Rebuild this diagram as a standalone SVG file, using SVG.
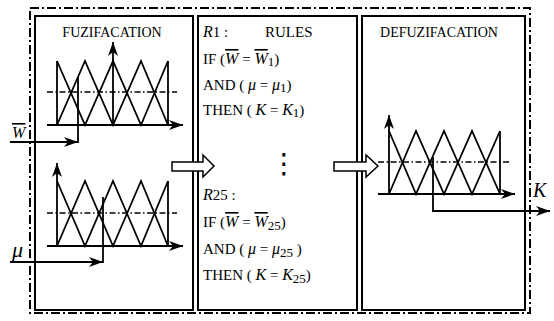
<svg xmlns="http://www.w3.org/2000/svg" width="554" height="321" viewBox="0 0 554 321">
<style>
.box{fill:none;stroke:#000;stroke-width:2}
.frame{fill:none;stroke:#000;stroke-width:2;stroke-dasharray:9 3 2 3}
.mf{fill:none;stroke:#000;stroke-width:1.8;stroke-linejoin:miter}
.ax{fill:none;stroke:#000;stroke-width:1.8;marker-end:url(#ah)}
.dd{fill:none;stroke:#000;stroke-width:1.3;stroke-dasharray:6 2.5 1.5 2.5}
.t{font-family:"Liberation Serif","Times New Roman",serif;font-size:14px;fill:#000}
.r{font-size:15px}
.i{font-style:italic;font-size:16px}
.ov{text-decoration:overline}
.sub{font-size:13px}
.ha{fill:#fff;stroke:#000;stroke-width:1.5}
.ln{fill:none;stroke:#000;stroke-width:1.8}
</style>
<defs>
<marker id="ah" viewBox="0 0 14 10" refX="14" refY="5" markerWidth="14" markerHeight="10" markerUnits="userSpaceOnUse" orient="auto"><path d="M0,0 L14,5 L0,10 L4,5 Z" fill="#000"/></marker>
</defs>
<rect class="frame" x="30" y="8" width="500" height="305"/>
<g id="fuzification">
<rect class="box" x="35" y="16" width="158" height="294"/>
<text class="t" x="112" y="37" text-anchor="middle">FUZIFACATION</text>
<line class="dd" x1="47" y1="92" x2="177" y2="92"/>
<polyline class="mf" points="57,61 85,125 113,61 141,125 168,61"/>
<polyline class="mf" points="57,125 85,61 113,125 141,61 168,125"/>
<line class="mf" x1="57" y1="61" x2="57" y2="125"/>
<line class="mf" x1="168" y1="61" x2="168" y2="125"/>
<line class="ax" x1="113" y1="125" x2="113" y2="42"/>
<line class="ax" x1="47" y1="125" x2="183" y2="125"/>
<line class="dd" x1="47" y1="213" x2="177" y2="213"/>
<polyline class="mf" points="57,181 85,246 113,181 141,246 168,181"/>
<polyline class="mf" points="57,246 85,181 113,246 141,181 168,246"/>
<line class="mf" x1="168" y1="181" x2="168" y2="246"/>
<line class="ax" x1="57" y1="246" x2="57" y2="163"/>
<line class="ax" x1="47" y1="246" x2="183" y2="246"/>
</g>
<g id="rules">
<rect class="box" x="198" y="16" width="159" height="294"/>
<text class="t r" x="203" y="37"><tspan class="i">R</tspan>1 :</text>
<text class="t r" x="265" y="37">RULES</text>
<text class="t r" x="203" y="64">IF (<tspan class="i ov">W</tspan> = <tspan class="i ov">W</tspan><tspan class="sub" dy="2">1</tspan><tspan dy="-2">)</tspan></text>
<text class="t r" x="203" y="90">AND ( <tspan class="i">μ</tspan> = <tspan class="i">μ</tspan><tspan class="sub" dy="2">1</tspan><tspan dy="-2">)</tspan></text>
<text class="t r" x="203" y="115">THEN ( <tspan class="i">K</tspan> = <tspan class="i">K</tspan><tspan class="sub" dy="2">1</tspan><tspan dy="-2">)</tspan></text>
<text class="t" x="284" y="173" text-anchor="middle" style="font-family:'DejaVu Sans',sans-serif;font-size:28px">⋮</text>
<text class="t r" x="203" y="200"><tspan class="i">R</tspan>25 :</text>
<text class="t r" x="203" y="227">IF (<tspan class="i ov">W</tspan> = <tspan class="i ov">W</tspan><tspan class="sub" dy="3">25</tspan><tspan dy="-3">)</tspan></text>
<text class="t r" x="203" y="254">AND ( <tspan class="i">μ</tspan> = <tspan class="i">μ</tspan><tspan class="sub" dy="3">25</tspan><tspan dy="-3"> )</tspan></text>
<text class="t r" x="203" y="280">THEN ( <tspan class="i">K</tspan> = <tspan class="i">K</tspan><tspan class="sub" dy="3">25</tspan><tspan dy="-3">)</tspan></text>
</g>
<g id="defuzification">
<rect class="box" x="362" y="16" width="163" height="294"/>
<text class="t" x="439" y="37" text-anchor="middle">DEFUZIFACATION</text>
<line class="dd" x1="378" y1="162" x2="509" y2="162"/>
<polyline class="mf" points="389,131 416,194 444,131 472,194 500,131"/>
<polyline class="mf" points="389,194 416,131 444,194 472,131 500,194"/>
<line class="mf" x1="500" y1="131" x2="500" y2="194"/>
<line class="ax" x1="389" y1="194" x2="389" y2="115"/>
<line class="ax" x1="378" y1="194" x2="515" y2="194"/>
</g>
<g id="connectors">
<polygon class="ha" points="172,162 203,162 203,155 214,166 203,177 203,171 172,171"/>
<polygon class="ha" points="334,162 366,162 366,155 378,166 366,177 366,171 334,171"/>
<line class="ln" x1="78" y1="77" x2="78" y2="143"/>
<line class="ax" x1="10" y1="142" x2="78" y2="142"/>
<line class="ln" x1="103" y1="197" x2="103" y2="263"/>
<line class="ax" x1="10" y1="262" x2="103" y2="262"/>
<line class="ln" x1="433" y1="157" x2="433" y2="212"/>
<line class="ax" x1="432" y1="211" x2="550" y2="211"/>
</g>
<text class="t i ov" x="12" y="138" style="font-size:16px">W</text>
<text class="t i" x="12" y="257" style="font-size:22px">μ</text>
<text class="t i" x="533" y="197" style="font-size:20px">K</text>
</svg>
